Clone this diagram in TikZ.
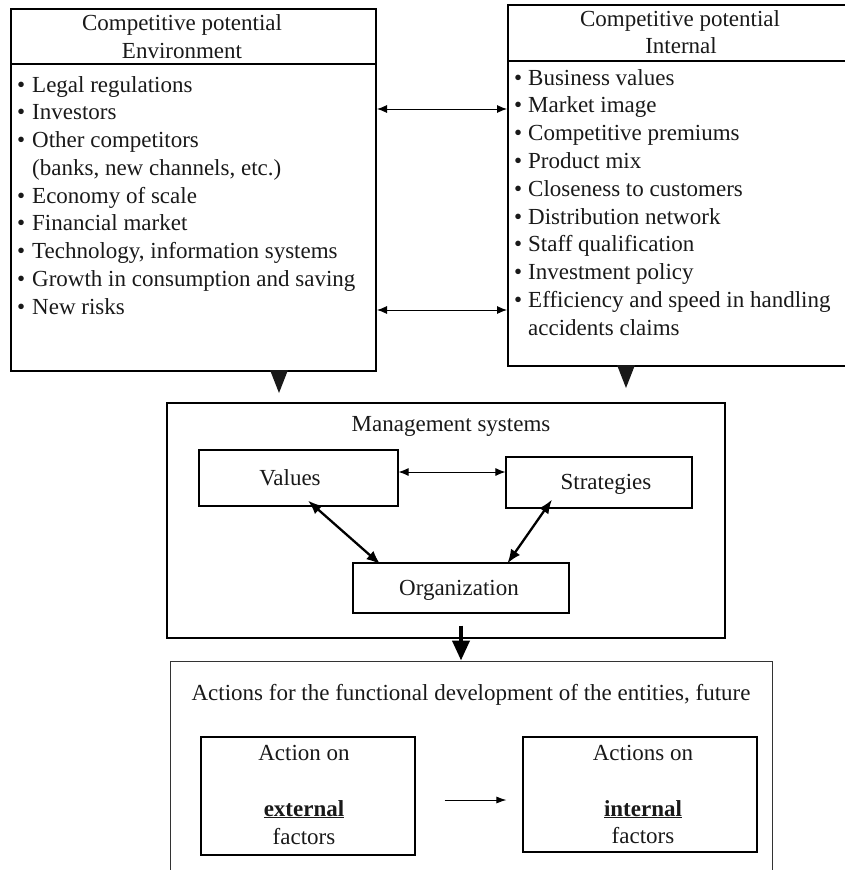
\documentclass[tikz,border=0pt]{standalone}
\usepackage{fontspec}
\setmainfont{Liberation Serif}
\usetikzlibrary{arrows.meta,calc}
\begin{document}
\begin{tikzpicture}[x=1pt,y=-1pt,
  every node/.style={font=\fontsize{23}{27.75}\selectfont, inner sep=0pt, text=black!90},
  bigbox/.style={draw, line width=2pt, inner sep=0pt},
  midbox/.style={draw, line width=1.2pt, inner sep=0pt},
  lowbox/.style={draw=black!80, line width=1pt, inner sep=0pt},
  thinarr/.style={line width=0.9pt, {Latex[length=10pt,width=8pt]}-{Latex[length=10pt,width=8pt]}},
  thickarr/.style={line width=2.3pt, {Latex[length=14pt,width=11pt]}-{Latex[length=14pt,width=11pt]}},
  ltxt/.style={anchor=base west},
  ctxt/.style={anchor=base}]
\useasboundingbox (0,0) rectangle (845,870);
\clip (0,0) rectangle (845,870);

% top boxes
\node[bigbox, minimum width=365pt, minimum height=362pt] (env) at (193.5,190) {};
\draw[line width=2pt] (env.west |- 0,64) -- (env.east |- 0,64);
\node[bigbox, minimum width=342pt, minimum height=361pt] (int) at (679,185.5) {};
\draw[line width=2pt] (int.west |- 0,61) -- (int.east |- 0,61);

\node[ctxt] (eh1) at (182,30) {Competitive potential};
\node[ctxt] (eh2) at (182,58) {Environment};
\node[ctxt] (ih1) at (680,26) {Competitive potential};
\node[ctxt] (ih2) at (681,53) {Internal};

% left list
\foreach \y/\t [count=\i] in {92/Legal regulations, 119.75/Investors, 147.5/Other competitors,
   203/Economy of scale, 230.75/Financial market, 258.5/{Technology, information systems},
   286.25/Growth in consumption and saving, 314/New risks}{
  \node[ltxt] (lb\i) at (17,\y) {\textbullet};
  \node[ltxt] (lt\i) at (32,\y) {\t};
}
\node[ltxt] (lt9) at (32,175.25) {(banks, new channels, etc.)};

% right list
\foreach \y/\t [count=\i] in {85/Business values, 112.8/Market image, 140.6/Competitive premiums,
   168.4/Product mix, 196.2/Closeness to customers, 224/Distribution network,
   251.8/Staff qualification, 279.6/Investment policy, 307.4/Efficiency and speed in handling}{
  \node[ltxt] (rb\i) at (514,\y) {\textbullet};
  \node[ltxt] (rt\i) at (528,\y) {\t};
}
\node[ltxt] (rt10) at (528,335.2) {accidents claims};

% arrows between top boxes
\draw[thinarr] (env.east |- 0,109) -- (int.west |- 0,109);
\draw[thinarr] (env.east |- 0,310) -- (int.west |- 0,310);

% triangles
\fill[black!90] (270,370) -- (288,370) -- (279,393) -- cycle;
\fill[black!90] (617,365) -- (635,365) -- (626,388) -- cycle;

% management systems
\node[midbox, minimum width=558pt, minimum height=235pt] (mgmt) at (446,520.5) {};
\node[ctxt] (mgt) at (451,431) {Management systems};
\node[midbox, minimum width=199pt, minimum height=56pt] (val) at (298.5,478) {};
\node[ctxt] (valt) at (290,485) {Values};
\node[midbox, minimum width=186pt, minimum height=51pt] (str) at (599,482.5) {};
\node[ctxt] (strt) at (606,489) {Strategies};
\node[midbox, minimum width=216pt, minimum height=50pt] (org) at (461,588) {};
\node[ctxt] (orgt) at (459,595) {Organization};

\draw[thinarr] (val.east |- 0,472) -- (str.west |- 0,472);
\draw[thickarr] ($(val.south)+(9.5,-6)$) -- ($(org.north west)+(28,2)$);
\draw[thickarr] ($(str.south)+(-47,-9)$) -- ($(org.north west)+(155,1)$);

% bottom box
\node[lowbox, minimum width=602pt, minimum height=219pt] (act) at (471,770.5) {};
\draw[line width=4pt, -{Triangle[length=20pt,width=17pt]}] ($(mgmt.south)+(15,-13)$) -- (act.north -| 461,0);
\node[ctxt] (actt) at (471,700) {Actions for the functional development of the entities, future};

\node[midbox, minimum width=214pt, minimum height=118pt] (ext) at (308,796) {};
\node[ctxt] (ext1) at (304,760) {Action on};
\node[ctxt] (ext2) at (304,816) {\underline{\textbf{external}}};
\node[ctxt] (ext3) at (304,844) {factors};

\node[midbox, minimum width=234pt, minimum height=115pt] (inn) at (640,794.5) {};
\node[ctxt] (inn1) at (643,760) {Actions on};
\node[ctxt] (inn2) at (643,816) {\underline{\textbf{internal}}};
\node[ctxt] (inn3) at (643,843) {factors};

\draw[line width=0.9pt, -{Latex[length=10pt,width=7pt]}, shorten <=29pt, shorten >=16pt] (ext.east |- 0,800) -- (inn.west |- 0,800);
\end{tikzpicture}
\end{document}
